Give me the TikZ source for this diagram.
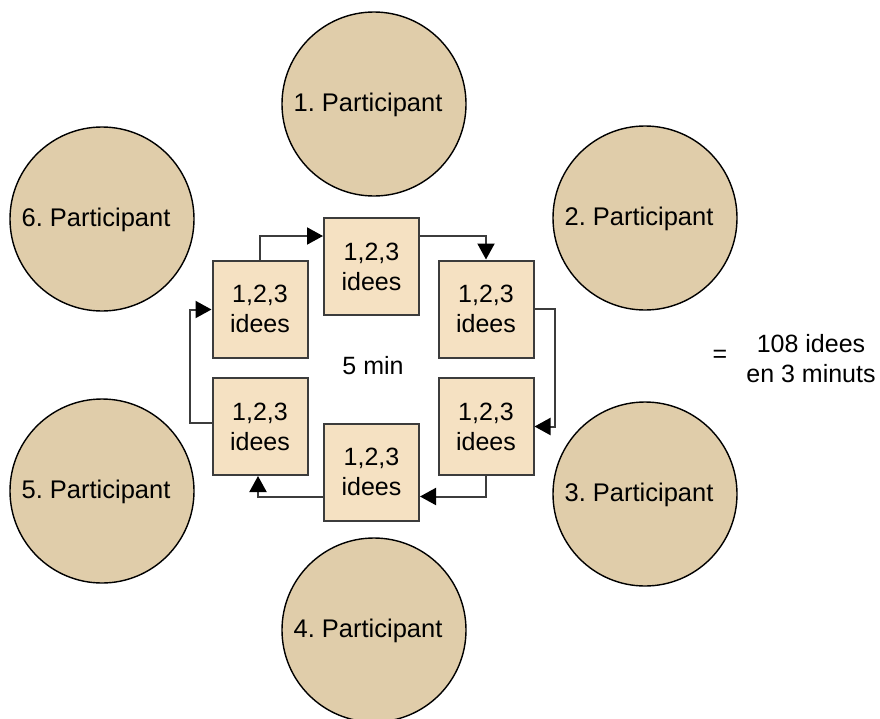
\documentclass[tikz,border=0pt]{standalone}
\usepackage{fontspec}
\setmainfont{Liberation Sans}
\frenchspacing
\usetikzlibrary{arrows.meta}
\definecolor{person}{RGB}{224,205,170}
\definecolor{ideafill}{RGB}{245,225,194}
\definecolor{edge}{RGB}{60,60,60}
\tikzset{
  person/.style={circle, draw=black, line width=1.4pt, fill=person,
    minimum size=184pt, inner sep=0pt,
    label={[xshift=-6pt,yshift=-1pt]center:#1}},
  ideabox/.style={rectangle, draw=edge, line width=2pt, fill=ideafill,
    minimum width=95pt, minimum height=97pt, inner sep=0pt, align=center},
  flow/.style={draw=edge, line width=2pt,
    -{Triangle[length=16pt,width=17pt,color=black]}},
  every node/.style={font=\fontsize{25}{30}\selectfont},
  every label/.style={font=\fontsize{25.5}{30}\selectfont},
}
\begin{document}
\begin{tikzpicture}[x=1pt,y=-1pt]
\useasboundingbox (0,0) rectangle (880,718);

% participants round the table
\node[person={1. Participant}] (p1) at (374,104) {};
\node[person={2. Participant}] (p2) at (645,218) {};
\node[person={3. Participant}] (p3) at (645,494) {};
\node[person={4. Participant}] (p4) at (374,630) {};
\node[person={5. Participant}] (p5) at (102,491) {};
\node[person={6. Participant}] (p6) at (102,219) {};

% idea sheets passed clockwise
\node[ideabox] (b1) at (260,309) {1,2,3\\idees};
\node[ideabox] (b2) at (371.5,266.5) {1,2,3\\idees};
\node[ideabox] (b3) at (486,309) {1,2,3\\idees};
\node[ideabox] (b4) at (486,426.5) {1,2,3\\idees};
\node[ideabox] (b5) at (371.5,472) {1,2,3\\idees};
\node[ideabox] (b6) at (260,426.5) {1,2,3\\idees};

\node (t) at (373,366) {5 min};
\node (eq) at (720,356) {=};
\node[align=center] (res) at (811,359) {108 idees\\en 3 minuts};

% hand-over arrows
\draw[flow] (b1.north) |- ([yshift=-19pt]b2.north west);
\draw[flow] ([yshift=-19pt]b2.north east) -| (b3.north);
\draw[flow] ([yshift=-49pt]b3.north east) -- ++(20,0) |- (b4.east);
\draw[flow] (b4.south) |- ([yshift=-74pt]b5.north east);
\draw[flow] ([yshift=-74pt]b5.north west) -| ([xshift=-2pt]b6.south);
\draw[flow] ([yshift=-46pt]b6.north west) -- ++(-22,0) |- ([yshift=-50pt]b1.north west);
\end{tikzpicture}
\end{document}
